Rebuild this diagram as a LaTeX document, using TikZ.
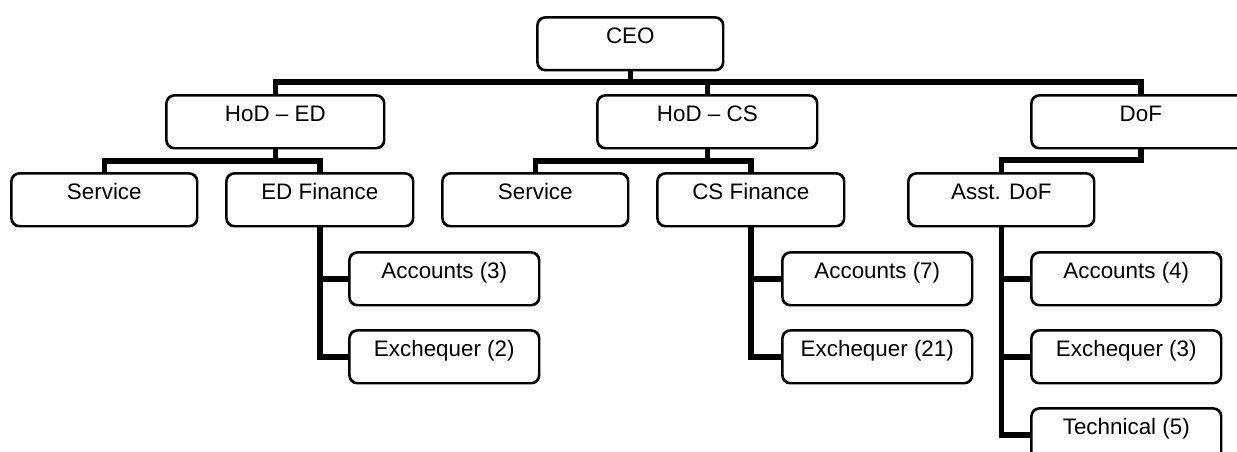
\documentclass[tikz,border=0pt]{standalone}
\usepackage{fontspec}
\setmainfont{Liberation Sans}
\begin{document}
\begin{tikzpicture}[x=1pt,y=-1pt,
  box/.style={draw, line width=1.6pt, rounded corners=8pt, fill=white, inner sep=0pt,
    minimum height=52pt, text height=12pt, text depth=12pt,
    font=\fontsize{22.4}{26}\selectfont, anchor=north west},
  conn/.style={line width=5.6pt, line join=miter}]
\useasboundingbox (0,0) rectangle (1237,452);
\clip (0,0) rectangle (1237,452);

% nodes
\node[box, minimum width=185pt] (ceo) at (537,17) {CEO};
\node[box, minimum width=217pt] (hoded) at (166,95) {HoD -- ED};
\node[box, minimum width=219pt] (hodcs) at (597,95) {HoD -- CS};
\node[box, minimum width=218pt] (dof) at (1031,95) {DoF};
\node[box, minimum width=185pt] (svc1) at (11,173) {Service};
\node[box, minimum width=186pt] (edfin) at (226,173) {ED Finance};
\node[box, minimum width=185pt] (svc2) at (442,173) {Service};
\node[box, minimum width=186pt] (csfin) at (657,173) {CS Finance};
\node[box, minimum width=185pt] (asstdof) at (908,173) {Asst. DoF};
\node[box, minimum width=189pt] (acc3) at (349,252) {Accounts (3)};
\node[box, minimum width=189pt] (exq2) at (349,330) {Exchequer (2)};
\node[box, minimum width=189pt] (acc7) at (782,252) {Accounts (7)};
\node[box, minimum width=189pt] (exq21) at (782,330) {Exchequer (21)};
\node[box, minimum width=189pt] (acc4) at (1031,252) {Accounts (4)};
\node[box, minimum width=189pt] (exq3) at (1031,330) {Exchequer (3)};
\node[box, minimum width=189pt] (tech5) at (1031,408) {Technical (5)};

% bus levels
\coordinate (bus1) at (0,82);
\coordinate (bus2) at (0,161);
\coordinate (bus3) at (0,160);

% connectors
\draw[conn] (ceo.south) -- (ceo.south |- bus1);
\draw[conn] (hoded.north) -- (hoded.north |- bus1) -- (dof.north |- bus1) -- (dof.north);
\draw[conn] (hodcs.north) -- (hodcs.north |- bus1);

\draw[conn] (hoded.south) -- (hoded.south |- bus2);
\draw[conn] (svc1.north) -- (svc1.north |- bus2) -- (edfin.north |- bus2) -- (edfin.north);

\draw[conn] (hodcs.south) -- (hodcs.south |- bus2);
\draw[conn] (svc2.north) -- (svc2.north |- bus2) -- (csfin.north |- bus2) -- (csfin.north);

\draw[conn] (dof.south) -- (dof.south |- bus3) -- (asstdof.north |- bus3) -- (asstdof.north);

\draw[conn] (edfin.south) |- (acc3.west);
\draw[conn] (edfin.south) |- (exq2.west);
\draw[conn] (csfin.south) |- (acc7.west);
\draw[conn] (csfin.south) |- (exq21.west);
\draw[conn] (asstdof.south) |- (acc4.west);
\draw[conn] (asstdof.south) |- (exq3.west);
\draw[conn] (asstdof.south) |- (tech5.west);

% redraw box outlines over connector ends
\foreach \n in {ceo,hoded,hodcs,dof,svc1,edfin,svc2,csfin,asstdof,acc3,exq2,acc7,exq21,acc4,exq3,tech5}{
  \draw[line width=1.6pt, rounded corners=8pt] (\n.north west) rectangle (\n.south east);
}
\end{tikzpicture}
\end{document}
